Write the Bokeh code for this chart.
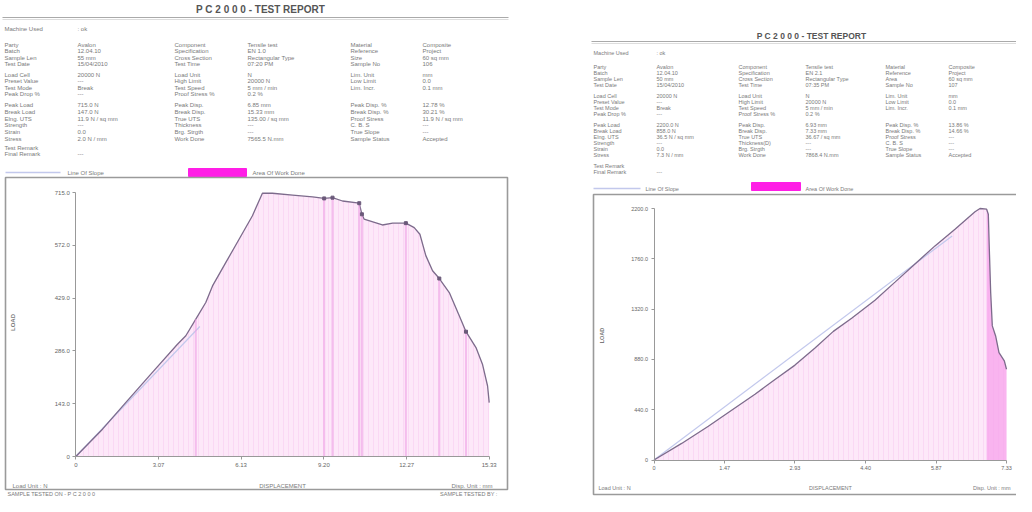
import numpy as np
from bokeh.plotting import figure
from bokeh.models import Range1d, LinearAxis, FixedTicker
from bokeh.core.properties import value
from bokeh.embed import file_html
from bokeh.resources import INLINE

# ---------------- data: left report ----------------
l_disp = [0, 0.99, 1.85, 2.84, 3.77, 4.08, 4.45, 4.82, 5.07, 5.56, 6.06, 6.55, 6.92, 7.29,
          8.04, 8.78, 9.21, 9.52, 9.89, 10.51, 10.61, 10.69, 11.37, 11.75, 12.24, 12.55,
          12.76, 12.98, 13.23, 13.48, 13.85, 14.22, 14.47, 14.84, 15.08, 15.27, 15.33]
l_load = [0, 74, 146, 228, 304, 327, 372, 417, 462, 525, 589, 652, 713, 713,
          708, 703, 699, 701, 692, 686, 656, 643, 627, 632, 632, 620,
          602, 544, 503, 482, 444, 381, 338, 295, 250, 191, 146]
l_mark_disp = [4.45, 9.21, 9.52, 10.51, 10.61, 12.24, 13.48, 14.47]
l_mark_load = [372, 699, 701, 686, 656, 632, 482, 338]
l_slope_disp = [0, 4.6]
l_slope_load = [0, 352]
l_xticks = [0, 3.07, 6.13, 9.2, 12.27, 15.33]
l_xlabels = ["0", "3.07", "6.13", "9.20", "12.27", "15.33"]
l_yticks = [0, 143, 286, 429, 572, 715]
l_ylabels = ["0", "143.0", "286.0", "429.0", "572.0", "715.0"]

# ---------------- data: right report ----------------
r_disp = [0, 0.575, 1.13, 1.546, 2.1, 2.516, 2.932, 3.348, 3.729, 4.11, 4.595, 5.011,
          5.427, 5.843, 6.259, 6.675, 6.779, 6.917, 6.952, 6.973, 7.001, 7.035, 7.104,
          7.174, 7.285, 7.33]
r_load = [0, 145, 295, 415, 575, 705, 830, 980, 1125, 1240, 1398, 1556,
          1715, 1873, 2019, 2171, 2200, 2194, 2150, 1844, 1465, 1173, 1085,
          940, 867, 794]
r_slope_disp = [0, 6.2]
r_slope_load = [0, 1960]
r_xticks = [0, 1.47, 2.93, 4.4, 5.87, 7.33]
r_xlabels = ["0", "1.47", "2.93", "4.40", "5.87", "7.33"]
r_yticks = [0, 440, 880, 1320, 1760, 2200]
r_ylabels = ["0", "440.0", "880.0", "1320.0", "1760.0", "2200.0"]

# ---------------- header tables ----------------
l_rows = [
    ["Party", "Avalon", "Component", "Tensile test", "Material", "Composite"],
    ["Batch", "12.04.10", "Specification", "EN 1.0", "Reference", "Project"],
    ["Sample Len", "55 mm", "Cross Section", "Rectangular Type", "Size", "60 sq mm"],
    ["Test Date", "15/04/2010", "Test Time", "07:20 PM", "Sample No", "106"],
    ["Load Cell", "20000 N", "Load Unit", "N", "Lim. Unit", "mm"],
    ["Preset Value", "---", "High Limit", "20000 N", "Low Limit", "0.0"],
    ["Test Mode", "Break", "Test Speed", "5 mm / min", "Lim. Incr.", "0.1 mm"],
    ["Peak Drop %", "---", "Proof Stress %", "0.2 %", "", ""],
    ["Peak Load", "715.0 N", "Peak Disp.", "6.85 mm", "Peak Disp. %", "12.78 %"],
    ["Break Load", "147.0 N", "Break Disp.", "15.33 mm", "Break Disp. %", "30.21 %"],
    ["Elng. UTS", "11.9 N / sq mm", "True UTS", "135.00 / sq mm", "Proof Stress", "11.9 N / sq mm"],
    ["Strength", "---", "Thickness", "---", "C. B. S", "---"],
    ["Strain", "0.0", "Brg. Strgth", "---", "True Slope", "---"],
    ["Stress", "2.0 N / mm", "Work Done", "7565.5 N.mm", "Sample Status", "Accepted"],
    ["Test Remark", "", "", "", "", ""],
    ["Final Remark", "---", "", "", "", ""],
]
r_rows = [
    ["Party", "Avalon", "Component", "Tensile test", "Material", "Composite"],
    ["Batch", "12.04.10", "Specification", "EN 2.1", "Reference", "Project"],
    ["Sample Len", "50 mm", "Cross Section", "Rectangular Type", "Area", "60 sq mm"],
    ["Test Date", "15/04/2010", "Test Time", "07:35 PM", "Sample No", "107"],
    ["Load Cell", "20000 N", "Load Unit", "N", "Lim. Unit", "mm"],
    ["Preset Value", "---", "High Limit", "20000 N", "Low Limit", "0.0"],
    ["Test Mode", "Break", "Test Speed", "5 mm / min", "Lim. Incr.", "0.1 mm"],
    ["Peak Drop %", "---", "Proof Stress %", "0.2 %", "", ""],
    ["Peak Load", "2200.0 N", "Peak Disp.", "6.93 mm", "Peak Disp. %", "13.86 %"],
    ["Break Load", "858.0 N", "Break Disp.", "7.33 mm", "Break Disp. %", "14.66 %"],
    ["Elng. UTS", "36.5 N / sq mm", "True UTS", "36.67 / sq mm", "Proof Stress", "---"],
    ["Strength", "---", "Thickness(D)", "---", "C. B. S", "---"],
    ["Strain", "0.0", "Brg. Strgth", "---", "True Slope", "---"],
    ["Stress", "7.3 N / mm", "Work Done", "7868.4 N.mm", "Sample Status", "Accepted"],
    ["Test Remark", "", "", "", "", ""],
    ["Final Remark", "---", "", "", "", ""],
]

OFF = 8
W, H = 1016, 496
FONT = value("Liberation Sans")
TXT = "#7a7a7a"
LINE_C = "#7d6b8c"
FILL_C = "#fde8f9"
HATCH_C = "#f1aee6"
SLOPE_C = "#c2c8ec"

p = figure(width=W, height=H, x_range=Range1d(0, W), y_range=Range1d(H, 0),
           x_axis_type=None, y_axis_type=None, toolbar_location=None,
           output_backend="svg", min_border=0)
p.outline_line_color = None
p.background_fill_color = "white"
p.border_fill_color = "white"


def extra_range(d0, d1, p0, p1, total):
    k = (p1 - p0) / (d1 - d0)
    start = d0 - p0 / k
    return Range1d(start=start, end=start + total / k)


def S(v):
    return v - OFF


# chart coordinate systems (pixel anchors of the axes)
p.extra_x_ranges["lx"] = extra_range(0, l_xticks[-1], S(83.3), S(496.7), W)
p.extra_y_ranges["ly"] = extra_range(0, l_yticks[-1], H - S(464), H - S(200), H)
p.extra_x_ranges["rx"] = extra_range(0, r_xticks[-1], S(661.5), S(1014), W)
p.extra_y_ranges["ry"] = extra_range(0, r_yticks[-1], H - S(467.5), H - S(216), H)


def header(title, cx, ty, title_size, x0, line_y, x_end, mu_y, cols, row_ys, rows, fs):
    p.text(x=[S(cx)], y=[S(ty)], text=[title], text_font=FONT,
           text_font_size=value(title_size), text_font_style="bold",
           text_color="#555555", text_align="center", text_baseline="middle")
    p.segment(x0=[S(x0)], y0=[S(line_y)], x1=[S(x_end)], y1=[S(line_y)],
              line_color="#aaaaaa", line_width=1.2)
    p.segment(x0=[S(x0)], y0=[S(line_y) + 2], x1=[S(x_end)], y1=[S(line_y) + 2],
              line_color="#dddddd", line_width=1)
    p.text(x=[S(x0 + 2), S(cols[1])], y=[S(mu_y)] * 2, text=["Machine Used", ":  ok"],
           text_font=FONT, text_font_size=value(fs), text_color=TXT,
           text_baseline="middle")
    xs, ys, ts = [], [], []
    for ry, row in zip(row_ys, rows):
        for cxx, t in zip(cols, row):
            if t:
                xs.append(S(cxx))
                ys.append(S(ry))
                ts.append(t)
    p.text(x=xs, y=ys, text=ts, text_font=FONT, text_font_size=value(fs),
           text_color=TXT, text_baseline="middle")


l_row_y = [52, 58.5, 65, 71.5, 82, 88.5, 95, 101.5, 112.7, 119.3, 126, 132.7, 139.3, 146, 155, 161.5]
r_row_y = [74, 80, 86, 92, 103, 109, 115, 121, 132, 138, 144, 150, 156, 162, 173, 179]
header("P C 2 0 0 0 - TEST REPORT", 268, 17, "10px", 10, 25, 516, 36,
       [12, 85, 182, 255, 358, 430], l_row_y, l_rows, "6px")
header("P C 2 0 0 0 - TEST REPORT", 819, 43, "8.5px", 599, 49, 1040, 60,
       [601, 664, 746, 813, 893, 956], r_row_y, r_rows, "5.5px")


def legend(lx0, lx1, ly, tx1, bx0, bx1, by0, by1, tx2, fs):
    p.segment(x0=[S(lx0)], y0=[S(ly)], x1=[S(lx1)], y1=[S(ly)], line_color=SLOPE_C, line_width=1.5)
    p.quad(left=[S(bx0)], right=[S(bx1)], top=[S(by0)], bottom=[S(by1)],
           fill_color="#ff1ee6", line_color="#ff1ee6")
    p.text(x=[S(tx1), S(tx2)], y=[S(ly)] * 2, text=["Line Of Slope", "Area Of Work Done"],
           text_font=FONT, text_font_size=value(fs), text_color=TXT, text_baseline="middle")


legend(13, 68, 180, 75, 196, 254, 176, 184, 260, "6px")
legend(601, 648, 196, 653, 759, 808, 190, 198, 813, "5.5px")

# chart frames
for (x0, y0, x1, y1) in [(13, 185, 515, 497), (601, 202, 1040, 502)]:
    p.quad(left=[S(x0)], right=[S(x1)], top=[S(y0)], bottom=[S(y1)],
           fill_color=None, line_color="#9a9a9a", line_width=1.6)


def chart(xr, yr, disp, load, sdisp, sload, xt, xl, yt, yl, fs, hatch_from=None):
    kw = dict(x_range_name=xr, y_range_name=yr)
    p.varea(x=disp, y1=[0] * len(disp), y2=load, fill_color=FILL_C,
            hatch_pattern="|", hatch_color=HATCH_C, hatch_alpha=0.35,
            hatch_scale=5, hatch_weight=0.8, **kw)
    if hatch_from is not None:
        p.varea(x=disp[hatch_from:], y1=[0] * len(disp[hatch_from:]), y2=load[hatch_from:],
                fill_color="#f7a6ec", fill_alpha=0.8, **kw)
    p.line(sdisp, sload, line_color=SLOPE_C, line_width=1.2, **kw)
    p.line(disp, load, line_color=LINE_C, line_width=1.3, **kw)
    xa = LinearAxis(fixed_location=0, bounds=(xt[0], xt[-1]),
                    ticker=FixedTicker(ticks=xt), major_label_overrides=dict(zip(xt, xl)), **kw)
    ya = LinearAxis(fixed_location=0, bounds=(yt[0], yt[-1]),
                    ticker=FixedTicker(ticks=yt), major_label_overrides=dict(zip(yt, yl)), **kw)
    for ax in (xa, ya):
        ax.axis_line_color = "#999999"
        ax.major_tick_line_color = "#999999"
        ax.major_tick_out = 3
        ax.major_tick_in = 0
        ax.minor_tick_out = 0
        ax.minor_tick_in = 0
        ax.major_label_text_font = "Liberation Sans"
        ax.major_label_text_font_size = fs
        ax.major_label_text_color = "#666666"
        ax.major_label_standoff = 3
    p.add_layout(xa, "below")
    p.add_layout(ya, "left")


chart("lx", "ly", l_disp, l_load, l_slope_disp, l_slope_load,
      l_xticks, l_xlabels, l_yticks, l_ylabels, "6px")
p.segment(x0=l_mark_disp, y0=[0] * len(l_mark_disp), x1=l_mark_disp, y1=l_mark_load,
          x_range_name="lx", y_range_name="ly", line_color="#efa0e4", line_width=2, line_alpha=0.6)
p.scatter(l_mark_disp[1:], l_mark_load[1:], x_range_name="lx", y_range_name="ly",
          marker="square", size=3, color="#6b5a7a")
chart("rx", "ry", r_disp, r_load, r_slope_disp, r_slope_load,
      r_xticks, r_xlabels, r_yticks, r_ylabels, "5.5px", hatch_from=17)

# chart captions
caps = [
    (20, 493, "Load Unit : N", "left", "6px"), (290, 493, "DISPLACEMENT", "center", "6px"),
    (500, 493, "Disp. Unit : mm", "right", "6px"),
    (15, 501, "SAMPLE TESTED ON - P C 2 0 0 0", "left", "5.5px"),
    (505, 501, "SAMPLE TESTED BY :", "right", "5.5px"),
    (606, 495, "Load Unit : N", "left", "5.5px"), (838, 495, "DISPLACEMENT", "center", "5.5px"),
    (1018, 495, "Disp. Unit : mm", "right", "5.5px"),
]
for (x, y, t, al, fs) in caps:
    p.text(x=[S(x)], y=[S(y)], text=[t], text_font=FONT, text_font_size=value(fs),
           text_color=TXT, text_align=al, text_baseline="middle")
for (x, y, fs) in [(20, 330, "6px"), (609, 343, "5.5px")]:
    p.text(x=[S(x)], y=[S(y)], text=["LOAD"], angle=np.pi / 2, text_font=FONT,
           text_font_size=value(fs), text_font_style="bold", text_color=TXT,
           text_align="center", text_baseline="middle")

open("out.html", "w").write(file_html(p, INLINE))
